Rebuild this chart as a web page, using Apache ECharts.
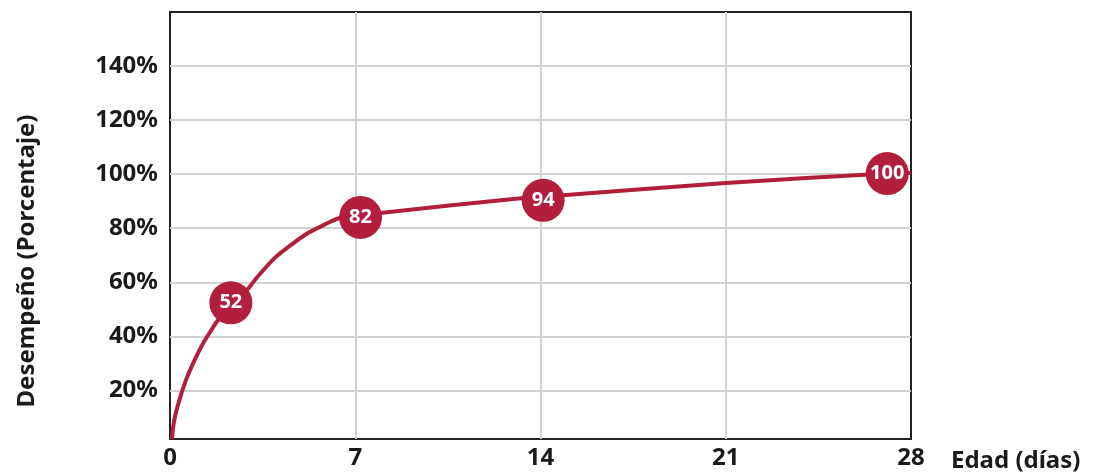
<!DOCTYPE html>
<html>
<head>
<meta charset="utf-8">
<script src="https://cdn.jsdelivr.net/npm/echarts@6/dist/echarts.min.js"></script>
<style>
html,body{margin:0;padding:0;background:#fff;}
#chart{width:1096px;height:474px;}
</style>
</head>
<body>
<div id="chart"></div>
<script>
// Curve (days, percent)
const curveDays  = [0.07, 0.16, 0.35, 0.6, 0.92, 1.24, 1.55, 1.8, 2.83, 3.34, 3.97, 4.6, 5.23, 5.86, 6.42, 7.94, 13.35, 14.1, 21, 27.1, 28];
const curveVals  = [2, 8.9, 16.3, 23.7, 31.0, 37.2, 42.1, 45.8, 56.2, 62.4, 69.1, 74.0, 78.3, 81.4, 83.8, 85.6, 91.2, 91.6, 96.7, 100.2, 100.4];
// Marked points
const markerDays   = [2.3, 7.2, 14.1, 27.1];
const markerVals   = [52.4, 84, 90.3, 100.2];
const markerLabels = ['52', '82', '94', '100'];
// Axis ticks
const xTicks = [0, 7, 14, 21, 28];
const yTickLabels = ['20%', '40%', '60%', '80%', '100%', '120%', '140%'];

const RED = '#b11f3d';
const FONT = 'Noto Sans';

const curveData = curveDays.map((d, i) => [d, curveVals[i]]);
const markerData = markerDays.map((d, i) => ({ value: [d, markerVals[i]], label: markerLabels[i] }));

const chart = echarts.init(document.getElementById('chart'));
chart.setOption({
  animation: false,
  backgroundColor: '#fff',
  grid: { left: 170, right: 185, top: 12, bottom: 35, show: true, borderColor: '#222', borderWidth: 2, backgroundColor: 'transparent' },
  xAxis: {
    type: 'value', min: 0, max: 28, interval: 7,
    axisLine: { show: false }, axisTick: { show: false },
    splitLine: { show: true, showMinLine: false, showMaxLine: false, lineStyle: { color: '#d2d2d2', width: 2 } },
    axisLabel: { color: '#1a1a1a', fontFamily: FONT, fontWeight: 'bold', fontSize: 24, margin: 7,
      formatter: v => xTicks.indexOf(v) >= 0 ? String(v) : '' }
  },
  yAxis: {
    type: 'value', min: 2, max: 160, minInterval: 20, maxInterval: 20,
    axisLine: { show: false }, axisTick: { show: false },
    splitLine: { show: true, showMinLine: false, showMaxLine: false, lineStyle: { color: '#d2d2d2', width: 2 } },
    axisLabel: { color: '#1a1a1a', fontFamily: FONT, fontWeight: 'bold', fontSize: 24, margin: 12,
      formatter: v => { const l = v + '%'; return yTickLabels.indexOf(l) >= 0 ? l : ''; } }
  },
  graphic: [
    { type: 'text', x: 27, y: 261, rotation: Math.PI / 2,
      style: { text: 'Desempeño (Porcentaje)', fill: '#1a1a1a', font: 'bold 24px "Noto Sans"', align: 'center', verticalAlign: 'middle' } },
    { type: 'text', x: 951, y: 461,
      style: { text: 'Edad (días)', fill: '#1a1a1a', font: 'bold 24px "Noto Sans"', align: 'left', verticalAlign: 'middle' } }
  ],
  series: [
    { type: 'line', data: curveData, smooth: 0.3, showSymbol: false,
      lineStyle: { color: RED, width: 4 }, z: 2 },
    { type: 'scatter', data: markerData, symbol: 'circle', symbolSize: 43,
      itemStyle: { color: RED, opacity: 1 }, z: 3,
      label: { show: true, position: 'inside', color: '#fff', fontFamily: FONT, fontWeight: 'bold', fontSize: 20,
        formatter: p => p.data.label } }
  ]
});
</script>
</body>
</html>
